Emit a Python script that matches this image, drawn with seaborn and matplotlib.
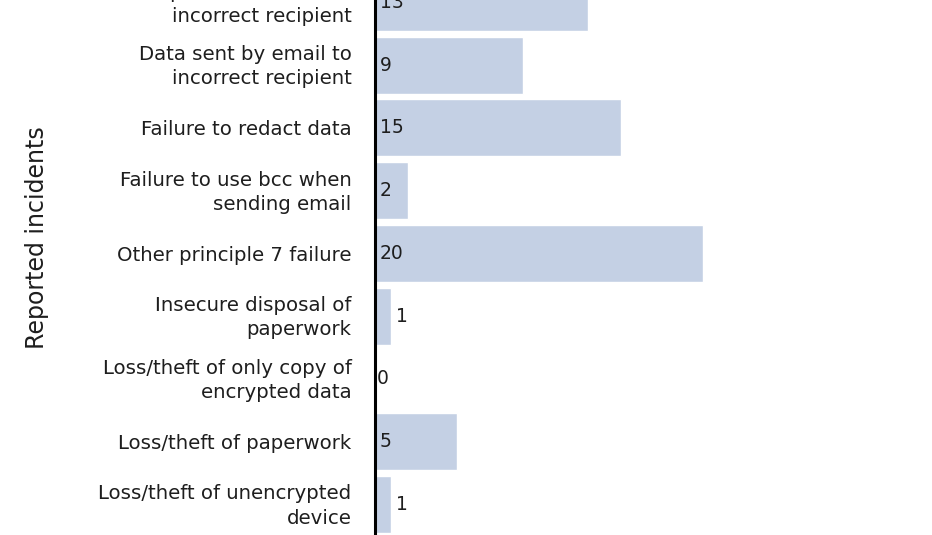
import seaborn as sns
import matplotlib.pyplot as plt
import matplotlib.transforms as mtransforms
import pandas as pd

sns.set_style("white")
plt.rcParams['font.family'] = ['DejaVu Sans']

# incident categories (top one is cut off in the reference view)
categories = [
    "Data posted or faxed to\nincorrect recipient",
    "Data sent by email to\nincorrect recipient",
    "Failure to redact data",
    "Failure to use bcc when\nsending email",
    "Other principle 7 failure",
    "Insecure disposal of\npaperwork",
    "Loss/theft of only copy of\nencrypted data",
    "Loss/theft of paperwork",
    "Loss/theft of unencrypted\ndevice",
]
counts = [13, 9, 15, 2, 20, 1, 0, 5, 1]

df = pd.DataFrame({"category": categories, "count": counts})

fig = plt.figure(figsize=(9.32, 5.35), dpi=100)
ax = fig.add_axes([375 / 932, 0, 1 - 375 / 932, 1])

sns.barplot(data=df, x="count", y="category", orient="h", color="#c4d0e4",
            width=0.91, saturation=1, ax=ax)

ax.set_xlim(0, (932 - 375) / 16.4)
ax.set_ylim(8.49, -0.04)

# value labels: inside near the axis when bar is wide enough, else after the bar
for i, v in enumerate(counts):
    if v >= 2:
        ax.text(0.3, i, str(v), va="center", ha="left", fontsize=13.5, color="#1e1e1e")
    else:
        ax.text(v + 0.3 if v > 0 else 0.1, i, str(v), va="center", ha="left",
                fontsize=13.5, color="#1e1e1e")

ax.set_xlabel("")
ax.set_xticks([])
ax.set_ylabel("Reported incidents", fontsize=17, color="#1e1e1e")
ax.yaxis.set_label_coords(-0.585, 0.556)
ax.tick_params(axis="y", length=0, pad=17, labelsize=14.2, labelcolor="#1e1e1e")
shift = mtransforms.ScaledTranslation(0, 3 / 100, fig.dpi_scale_trans)
for lab in ax.get_yticklabels():
    lab.set_horizontalalignment("right")
    lab.set_linespacing(1.35)
    if "\n" in lab.get_text():
        lab.set_transform(lab.get_transform() + shift)

for s in ["top", "right", "bottom"]:
    ax.spines[s].set_visible(False)
ax.spines["left"].set_color("black")
ax.spines["left"].set_linewidth(2.2)

fig.savefig("out.png", dpi=100)
